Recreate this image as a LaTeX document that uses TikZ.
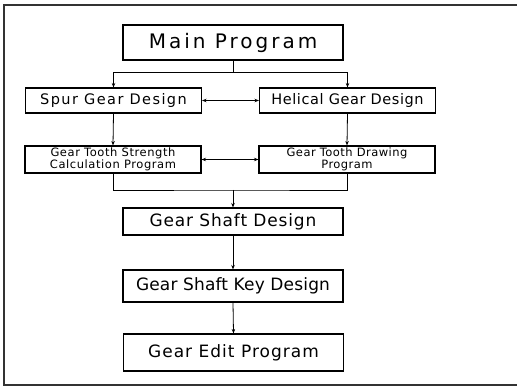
\documentclass[tikz,border=0pt]{standalone}
\usepackage{fontspec}
\setmainfont{DejaVu Sans}
\usetikzlibrary{arrows.meta, positioning}

\begin{document}
\begin{tikzpicture}[x=1pt, y=-1pt, >={Stealth[length=4.5pt, width=3.5pt]},
  box/.style={draw, line width=1.1pt, inner sep=0pt, align=center},
  mainbox/.style={box, minimum width=220pt, minimum height=35pt, font=\fontsize{20}{22}\selectfont\addfontfeature{LetterSpace=15}},
  bigbox/.style={box, minimum width=220pt, font=\fontsize{17}{19}\selectfont\addfontfeature{LetterSpace=#1}},
  midbox/.style={box, minimum width=176pt, minimum height=25pt, font=\fontsize{14.5}{16}\selectfont\addfontfeature{LetterSpace=#1}},
  smallbox/.style={box, minimum width=176pt, minimum height=27pt, font=\fontsize{11.5}{11.5}\selectfont\addfontfeature{LetterSpace=#1}},
  link/.style={line width=0.8pt}]
  \useasboundingbox (0,0) rectangle (517,387);

  % outer frame
  \draw[line width=1.2pt, black!80] (517,5) -- (4,5) -- (4,385) -- (517,385);

  % boxes
  \node[mainbox] (main) at (233,42.5) {Main Program};
  \node[midbox=10] (spur) at (113.5,100.5) {Spur Gear Design};
  \node[midbox=4] (helical) at (347.5,100.5) {Helical Gear Design};
  \node[smallbox=5] (strength) at (113,159.5) {Gear Tooth Strength\\Calculation Program};
  \node[smallbox=4] (drawing) at (347,159.5) {Gear Tooth Drawing\\Program};
  \node[bigbox=5, minimum height=27pt] (shaft) at (233,221.5) {Gear Shaft Design};
  \node[bigbox=1, minimum height=32pt] (key) at (233,286) {Gear Shaft Key Design};
  \node[bigbox=6, minimum height=37pt] (edit) at (233.5,352.5) {Gear Edit Program};

  % connectors
  \coordinate (j1) at (233,72);
  \coordinate (j2) at (233,190);
  \draw[link] (main.south) -- (j1);
  \draw[link, ->] (j1) -| (spur.north);
  \draw[link, ->] (j1) -| (helical.north);
  \draw[link, <->] (spur.east) -- (helical.west);
  \draw[link, ->] (spur.south) -- (strength.north);
  \draw[link, ->] (helical.south) -- (drawing.north);
  \draw[link, <->] (strength.east) -- (drawing.west);
  \draw[link] (strength.south) |- (j2) -| (drawing.south);
  \draw[link, ->] (j2) -- (shaft.north);
  \draw[link, ->] (shaft.south) -- (key.north);
  \draw[link, ->] (key.south) -- (edit.north);
\end{tikzpicture}
\end{document}
